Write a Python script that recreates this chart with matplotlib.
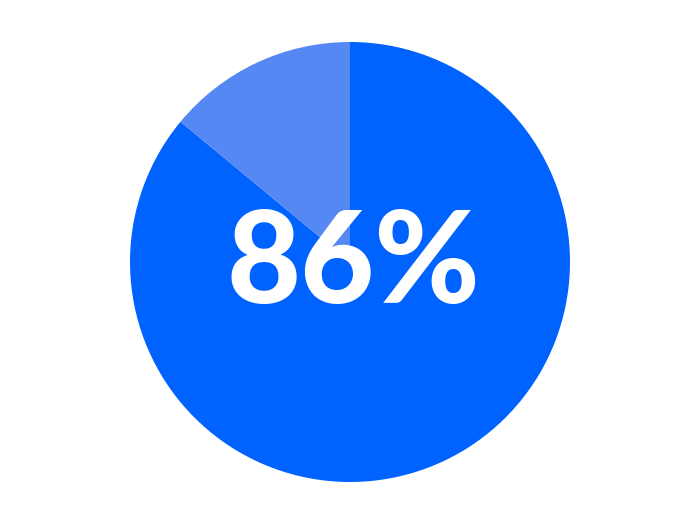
import matplotlib
matplotlib.use('Agg')
from matplotlib import pyplot as plt

# share of the pie
labels = ['Yes', 'No']
values = [86, 14]
colors = ['#0062ff', '#5588f2']
center_text = '86%'

W, H = 700, 524
fig = plt.figure(figsize=(W / 100, H / 100), dpi=100)
# pie occupies a 440 px circle centred at (350, 262)
ax = fig.add_axes([130 / W, (H - 482) / H, 440 / W, 440 / H])
ax.pie(values, colors=colors, startangle=90, counterclock=False,
       wedgeprops=dict(linewidth=0), radius=1.0)
ax.set_xlim(-1, 1)
ax.set_ylim(-1, 1)
ax.set_aspect('equal')
ax.axis('off')

fig.text(353 / W, 1 - 303 / H, center_text, ha='center', va='baseline',
         color='white', fontsize=92, fontweight='black',
         family=['Lato', 'DejaVu Sans'])

fig.savefig('out.png', dpi=100, facecolor='white')
